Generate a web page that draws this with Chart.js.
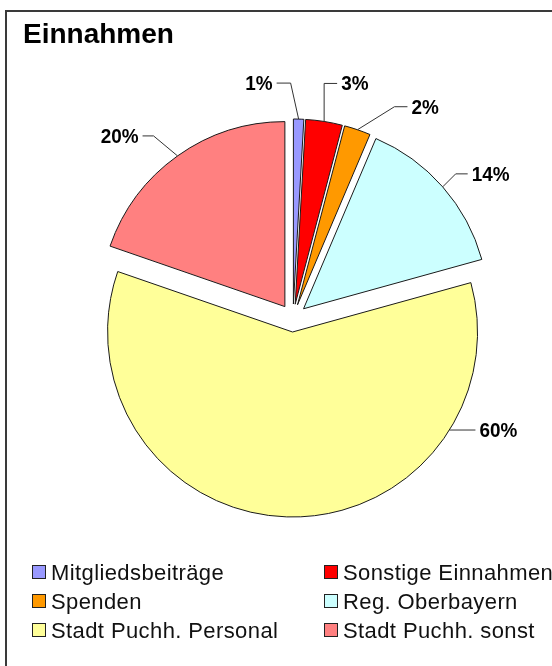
<!DOCTYPE html>
<html>
<head>
<meta charset="utf-8">
<script src="https://cdn.jsdelivr.net/npm/chart.js@4"></script>
<style>
  html, body { margin: 0; padding: 0; background: #fff; overflow: hidden; }
  body { width: 552px; height: 666px; position: relative; font-family: "Liberation Sans", Arial, sans-serif; }
  #frame { position: absolute; left: 5px; top: 10px; width: 620px; height: 720px;
           border-left: 2px solid #3a3a3a; border-top: 2px solid #3a3a3a; }
  #title { position: absolute; left: 23px; top: 20px; font-size: 28px; line-height: 28px;
           font-weight: bold; color: #000; white-space: nowrap; }
  #wrap { position: absolute; left: 0; top: 0; width: 552px; height: 666px; }
  #legend { position: absolute; left: 32px; top: 558px; display: grid;
            grid-template-columns: 292px 260px; font-size: 22px; line-height: 29px;
            letter-spacing: 0.4px; color: #111; }
  #legend .item { position: relative; padding-left: 19px; white-space: nowrap; }
  #legend .box { position: absolute; left: 0; top: 7px; width: 12px; height: 12px; border: 1px solid #222; }
</style>
</head>
<body>
<div id="frame"></div>
<div id="wrap"><canvas id="pie"></canvas></div>
<div id="title">Einnahmen</div>
<div id="legend"></div>
<script>
// Einnahmen (shares in percent)
const categories = ['Mitgliedsbeiträge', 'Sonstige Einnahmen', 'Spenden', 'Reg. Oberbayern', 'Stadt Puchh. Personal', 'Stadt Puchh. sonst'];
const shares = [0.9, 3.2, 2.3, 14.3, 59.6, 19.7];
const colors = ['#9999FF', '#FF0000', '#FF9900', '#CCFFFF', '#FFFF99', '#FF8080'];

// leader line layout per slice: elbow relative to the anchor on the rim
const leaders = [
    {dx: -8, dy: -36, len: 14, side: -1},
    {dx: 0, dy: -38, len: 13, side: 1},
    {dx: 37, dy: -23, len: 13, side: 1},
    {dx: 13, dy: -13, len: 12, side: 1},
    {angle: 122, dx: 0, dy: 0, len: 26, side: 1},
    {dx: -24, dy: -20, len: 11, side: -1}
];

// pull every slice out from the centre along its middle angle
const explodePie = {
    id: 'explodePie',
    beforeDatasetsDraw(chart, args, opts) {
        const area = chart.chartArea;
        const cx = (area.left + area.right) / 2;
        const cy = (area.top + area.bottom) / 2;
        chart.getDatasetMeta(0).data.forEach(arc => {
            const mid = (arc.startAngle + arc.endAngle) / 2;
            arc.x = cx + Math.cos(mid) * opts.distance;
            arc.y = cy + Math.sin(mid) * opts.distance;
        });
    }
};

// percentage labels with leader lines
const pieLabels = {
    id: 'pieLabels',
    afterDatasetsDraw(chart) {
        const ctx = chart.ctx;
        const values = chart.data.datasets[0].data;
        const total = values.reduce((a, b) => a + b, 0);
        ctx.save();
        ctx.strokeStyle = '#333';
        ctx.lineWidth = 1;
        ctx.fillStyle = '#000';
        ctx.font = 'bold 21px "Liberation Sans", Arial, sans-serif';
        ctx.textBaseline = 'middle';
        chart.getDatasetMeta(0).data.forEach((arc, i) => {
            const l = leaders[i];
            const a = l.angle != null ? (l.angle - 90) * Math.PI / 180 : (arc.startAngle + arc.endAngle) / 2;
            const ax = arc.x + Math.cos(a) * arc.outerRadius;
            const ay = arc.y + Math.sin(a) * arc.outerRadius;
            const ex = ax + l.dx, ey = ay + l.dy;
            const hx = ex + l.side * l.len;
            ctx.beginPath();
            ctx.moveTo(ax, ay);
            ctx.lineTo(ex, ey);
            ctx.lineTo(hx, ey);
            ctx.stroke();
            // slightly condensed text like the original
            ctx.save();
            ctx.translate(hx + l.side * 4, ey + 1);
            ctx.scale(0.9, 1);
            ctx.textAlign = l.side > 0 ? 'left' : 'right';
            ctx.fillText(Math.round(values[i] / total * 100) + '%', 0, 0);
            ctx.restore();
        });
        ctx.restore();
    }
};

const chart = new Chart(document.getElementById('pie'), {
    type: 'pie',
    data: {
        labels: categories,
        datasets: [{
            data: shares,
            backgroundColor: colors,
            borderColor: '#1a1a1a',
            borderWidth: 1,
            radius: 185
        }]
    },
    options: {
        responsive: true,
        maintainAspectRatio: false,
        animation: false,
        layout: {padding: {left: 40, right: 6, top: 50, bottom: 80}},
        plugins: {
            legend: {display: false},
            tooltip: {enabled: false},
            explodePie: {distance: 14}
        }
    },
    plugins: [explodePie, pieLabels]
});

// legend in two columns
const legend = document.getElementById('legend');
categories.forEach((c, i) => {
    const item = document.createElement('div');
    item.className = 'item';
    item.innerHTML = `<span class="box" style="background:${colors[i]}"></span>${c}`;
    legend.appendChild(item);
});
</script>
</body>
</html>
